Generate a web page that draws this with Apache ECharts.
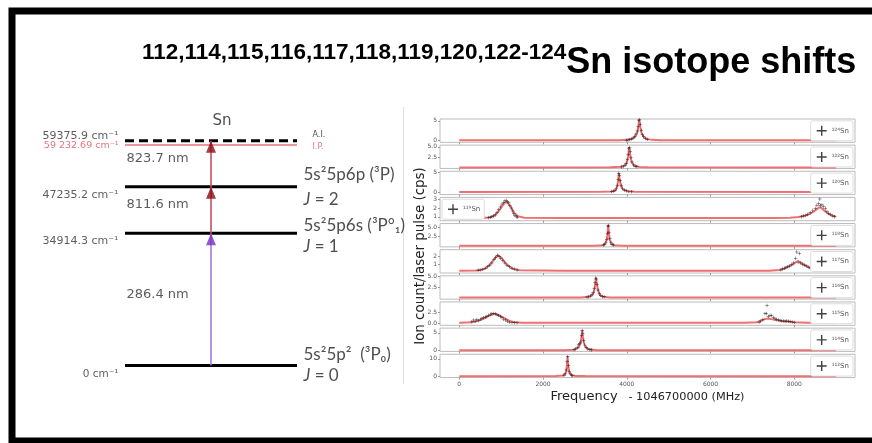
<!DOCTYPE html>
<html>
<head>
<meta charset="utf-8">
<script src="https://cdn.jsdelivr.net/npm/echarts@6/dist/echarts.min.js"></script>
<style>
  html, body { margin: 0; padding: 0; background: #fff; }
  #chart { width: 872px; height: 443px; }
</style>
</head>
<body>
<div id="chart"></div>
<script>
// ---- Sn excitation scheme (energies in cm^-1) ----
const levelValues = [0, 34914.3, 47235.2, 59375.9];        // ground, 6s, 6p, auto-ionizing
const ipValue = 59232.69;                                    // ionization potential
const stateTerms = ['5s²5p²  (³P₀)', '5s²5p6s (³P°₁)', '5s²5p6p (³P)'];
const stateJ = [0, 1, 2];
const transitionNm = [286.4, 811.6, 823.7];

// ---- Resonance spectra, one panel per isotope ----
const isotopeNames = ['¹²⁴Sn', '¹²²Sn', '¹²⁰Sn', '¹¹⁹Sn', '¹¹⁸Sn', '¹¹⁷Sn', '¹¹⁶Sn', '¹¹⁵Sn', '¹¹⁴Sn', '¹¹²Sn'];
const freqTicks = [0, 2000, 4000, 6000, 8000];
const yRangeMin = [-0.5, -0.25, -0.65, 0.56, -0.28, -0.1, 0, -0.4, -0.3, -0.8];
const yRangeMax = [5.45, 5.4, 5.17, 3.19, 6.03, 2.9, 5.1, 4.9, 6.36, 12.6];
const yTickValues = [[0, 5], [2.5, 5], [0, 5], [1, 2, 3], [2.5, 5], [1, 2], [2.5, 5], [0, 2.5], [0, 5], [0, 10]];
const yTickDecimals = [0, 1, 0, 0, 1, 0, 1, 1, 0, 0];

const fit124 = [[0,0],[3800,0.03],[4000,0.12],[4120,0.35],[4200,0.9],[4250,2.0],[4280,3.8],[4296,5.3],[4315,4.0],[4350,1.9],[4400,0.9],[4480,0.35],[4600,0.12],[4800,0.04],[9000,0]];
const pts124 = [[3990,0.05],[4030,0.1],[4070,0.2],[4110,0.35],[4150,0.6],[4190,1.0],[4220,1.6],[4250,2.4],[4270,3.5],[4290,5.0],[4302,5.3],[4320,4.1],[4345,2.6],[4370,1.5],[4400,0.9],[4440,0.5],[4490,0.3]];

const fit122 = [[0,0],[3600,0.03],[3850,0.15],[3950,0.5],[4000,1.2],[4030,2.6],[4057,4.9],[4085,2.8],[4120,1.2],[4180,0.45],[4300,0.12],[4500,0.04],[9000,0]];
const pts122 = [[3880,0.1],[3920,0.25],[3960,0.5],[3990,1.0],[4015,1.9],[4035,3.2],[4050,4.5],[4065,4.8],[4080,3.9],[4100,2.4],[4125,1.3],[4160,0.6],[4200,0.3],[4240,0.15]];

const fit120 = [[0,0],[3400,0.03],[3650,0.15],[3730,0.5],[3770,1.3],[3795,3.0],[3812,4.8],[3830,3.2],[3860,1.5],[3910,0.6],[4000,0.2],[4200,0.05],[9000,0]];
const pts120 = [[3640,0.1],[3680,0.2],[3720,0.45],[3750,0.9],[3775,1.7],[3795,3.2],[3810,4.6],[3825,4.2],[3845,2.8],[3870,1.6],[3900,0.9],[3940,0.5],[3990,0.3],[4050,0.15],[4110,0.08]];

const fit119 = [[0,0.85],[550,0.86],[700,0.92],[800,1.05],[900,1.4],[980,1.9],[1050,2.4],[1115,2.7],[1180,2.45],[1250,1.95],[1320,1.4],[1400,1.08],[1550,0.9],[2500,0.86],[7500,0.86],[7900,0.9],[8100,0.98],[8250,1.12],[8380,1.35],[8480,1.65],[8560,1.95],[8609,2.1],[8660,1.95],[8740,1.6],[8820,1.32],[8900,1.15],[9000,1.02]];
const pts119 = [[700,0.9],[740,0.95],[780,1.0],[820,1.1],[860,1.2],[900,1.45],[940,1.8],[980,2.1],[1020,2.45],[1060,2.65],[1090,2.8],[1120,2.85],[1150,2.7],[1180,2.6],[1210,2.3],[1240,2.0],[1270,1.65],[1300,1.35],[1330,1.15],[1360,1.0],[1390,0.95],
  [8170,1.0],[8220,1.08],[8270,1.15],[8320,1.25],[8380,1.45],[8440,1.7],[8500,1.95],[8540,2.3],[8580,2.5],[8610,3.0],[8630,2.25],[8660,2.35],[8700,2.15],[8740,1.9],[8780,1.6],[8820,1.4],[8870,1.25],[8920,1.1],[8960,1.0]];

const fit118 = [[0,0],[3200,0.03],[3420,0.15],[3490,0.6],[3525,1.8],[3545,4.0],[3556,5.7],[3568,4.2],[3590,1.9],[3630,0.6],[3700,0.15],[3900,0.04],[9000,0]];
const pts118 = [[3440,0.2],[3470,0.35],[3500,0.8],[3525,1.7],[3540,3.4],[3552,5.3],[3562,5.5],[3575,3.7],[3595,1.9],[3620,0.8],[3650,0.4],[3680,0.2]];

const fit117 = [[0,0.2],[400,0.22],[550,0.35],[650,0.6],[750,1.1],[850,1.8],[920,2.2],[1000,1.9],[1100,1.2],[1200,0.7],[1300,0.4],[1450,0.25],[2500,0.2],[7400,0.2],[7650,0.3],[7800,0.55],[7950,0.95],[8050,1.35],[8100,1.4],[8200,1.1],[8320,0.7],[8450,0.4],[8700,0.25],[9000,0.2]];
const pts117 = [[450,0.25],[500,0.3],[560,0.35],[620,0.5],[680,0.7],[730,0.9],[780,1.2],[830,1.6],[870,1.9],[910,2.2],[950,2.0],[990,1.8],[1040,1.5],[1090,1.2],[1140,0.9],[1200,0.7],[1260,0.5],[1320,0.4],[1380,0.3],
  [7680,0.3],[7720,0.4],[7760,0.5],[7800,0.6],[7840,0.7],[7880,0.8],[7930,1.0],[7980,1.2],[8030,1.8],[8060,2.6],[8090,1.3],[8120,2.4],[8150,1.2],[8200,1.0],[8250,0.9],[8300,0.8],[8350,0.6],[8400,0.5],[8460,0.4]];

const fit116 = [[0,0.35],[2900,0.37],[3100,0.5],[3180,0.9],[3220,1.8],[3245,3.3],[3263,4.7],[3282,3.6],[3310,2.0],[3360,0.9],[3430,0.5],[3600,0.38],[9000,0.35]];
const pts116 = [[3050,0.45],[3090,0.55],[3130,0.7],[3170,1.0],[3200,1.5],[3225,2.4],[3245,3.6],[3258,4.6],[3272,4.4],[3290,3.2],[3315,2.0],[3345,1.2],[3380,0.8],[3420,0.6],[3460,0.5]];

const fit115 = [[0,0.15],[300,0.3],[450,0.6],[600,1.2],[720,1.8],[830,2.2],[950,1.9],[1080,1.2],[1200,0.6],[1320,0.3],[1500,0.18],[2500,0.15],[6800,0.15],[7100,0.3],[7200,0.6],[7300,1.0],[7370,1.15],[7450,1.0],[7550,0.8],[7700,0.6],[7850,0.45],[8000,0.3],[8300,0.2],[9000,0.15]];
const pts115 = [[300,0.4],[340,0.8],[380,0.5],[420,0.9],[460,0.7],[500,1.0],[540,1.1],[580,1.3],[620,1.5],[660,1.6],[700,1.9],[740,2.1],[780,2.2],[820,2.3],[860,2.2],[900,2.0],[940,1.9],[980,1.6],[1020,1.3],[1060,1.0],[1100,0.8],[1150,0.5],[1200,0.3],[1260,0.2],[1320,0.2],[1380,0.15],
  [7160,0.3],[7200,0.6],[7250,0.9],[7300,2.2],[7330,2.3],[7350,4.1],[7380,1.6],[7420,1.9],[7450,1.8],[7500,1.4],[7540,1.1],[7580,0.9],[7620,0.8],[7660,0.7],[7700,0.6],[7740,0.6],[7780,0.5],[7820,0.6],[7860,0.5],[7900,0.4],[7950,0.35],[8000,0.3]];

const fit114 = [[0,0],[2500,0.03],[2750,0.2],[2850,0.8],[2895,2.0],[2920,3.9],[2936,5.8],[2952,4.0],[2980,2.0],[3030,0.8],[3100,0.3],[3300,0.06],[9000,0]];
const pts114 = [[2740,0.2],[2780,0.4],[2820,0.9],[2850,1.6],[2875,1.9],[2900,2.4],[2920,4.2],[2935,5.7],[2950,4.8],[2970,2.8],[2995,1.5],[3030,0.8],[3070,0.4],[3120,0.2],[3160,0.1]];

const fit112 = [[0,0],[2300,0.05],[2480,0.4],[2540,1.8],[2565,5.0],[2587,11.6],[2605,5.5],[2630,2.0],[2680,0.6],[2780,0.15],[3000,0.05],[9000,0]];
const pts112 = [[2500,0.5],[2530,1.2],[2555,3.5],[2575,8.5],[2590,11.2],[2605,6.0],[2625,2.5],[2650,1.2],[2680,0.6],[2710,0.3]];

const fits = [fit124, fit122, fit120, fit119, fit118, fit117, fit116, fit115, fit114, fit112];
const points = [pts124, pts122, pts120, pts119, pts118, pts117, pts116, pts115, pts114, pts112];

// ---- chart assembly ----
const plusPath = 'path://M4.3,0H5.7V10H4.3ZM0,4.3H10V5.7H0Z';
const numFont = 'DejaVu Sans';
const termFont = 'Lato';

const grids = [], xAxes = [], yAxes = [], series = [], legends = [];

// Level diagram: grid 0, and grid 1 (the I.P. line, drawn just under the A.I. line)
const diagram = { left: 125, right: 575, top: 138.3, bottom: 77.5 };
grids.push({ ...diagram });
grids.push({ left: diagram.left, right: diagram.right, top: diagram.top + 3.8, bottom: diagram.bottom - 3.8 });
for (let g = 0; g < 2; g++) {
  xAxes.push({ gridIndex: g, type: 'value', min: 0, max: 1, show: false });
  yAxes.push({ gridIndex: g, type: 'value', min: 0, max: 60000, show: false });
}

levelValues.forEach((E, i) => {
  series.push({
    type: 'line', xAxisIndex: 0, yAxisIndex: 0, silent: true, symbol: 'none', z: 3,
    data: [[0, E], [1, E]],
    lineStyle: { color: '#000', width: 3, type: i === 3 ? [9, 5] : 'solid' }
  });
});
series.push({
  type: 'line', xAxisIndex: 1, yAxisIndex: 1, silent: true, symbol: 'none', z: 2,
  data: [[0, ipValue], [1, ipValue]],
  lineStyle: { color: '#e8737c', width: 1.6 }
});

// excitation steps
series.push({
  type: 'line', xAxisIndex: 0, yAxisIndex: 0, silent: true, symbol: 'none', z: 4,
  data: [[0.5, levelValues[0]], [0.5, levelValues[1]]],
  lineStyle: { color: '#a57ad8', width: 1.6 }
});
series.push({
  type: 'line', xAxisIndex: 0, yAxisIndex: 0, silent: true, symbol: 'none', z: 4,
  data: [[0.5, levelValues[1]], [0.5, levelValues[3]]],
  lineStyle: { color: '#c4525c', width: 1.6 }
});
series.push({
  type: 'scatter', xAxisIndex: 0, yAxisIndex: 0, silent: true, z: 5,
  symbol: 'triangle', symbolSize: [10, 12], symbolOffset: [0, '50%'],
  data: [
    { value: [0.5, levelValues[1]], itemStyle: { color: '#7430c4' } },
    { value: [0.5, levelValues[2]], itemStyle: { color: '#8c0a16' } },
    { value: [0.5, levelValues[3]], itemStyle: { color: '#8c0a16' } }
  ]
});

// energy labels on the left
const energyOffsets = [8.5, 7.4, 8.3, -4.7];
const levelLabelData = levelValues.map((E, i) => ({
  value: [0, E],
  label: { formatter: E + ' cm⁻¹', offset: [0, energyOffsets[i]], fontSize: i === 0 ? 10.5 : 11 }
}));
series.push({
  type: 'scatter', xAxisIndex: 0, yAxisIndex: 0, silent: true, symbolSize: 1,
  itemStyle: { color: 'transparent' },
  label: { show: true, position: 'left', distance: 6, fontFamily: numFont, color: '#333' },
  data: levelLabelData
});
const ipText = Math.floor(ipValue / 1000) + ' ' + (ipValue % 1000).toFixed(2) + ' cm⁻¹';
series.push({
  type: 'scatter', xAxisIndex: 1, yAxisIndex: 1, silent: true, symbolSize: 1,
  itemStyle: { color: 'transparent' },
  label: { show: true, position: 'left', distance: 6, fontFamily: numFont, color: '#e0505c', fontSize: 9.5, offset: [0, 1] },
  data: [{ value: [0, ipValue], label: { formatter: ipText } }]
});

// wavelength labels, between the two levels of each step
series.push({
  type: 'scatter', xAxisIndex: 0, yAxisIndex: 0, silent: true, symbolSize: 1,
  itemStyle: { color: 'transparent' },
  label: { show: true, position: 'right', distance: 1, offset: [0, -5], fontFamily: numFont, fontSize: 13, color: '#333' },
  data: transitionNm.map((nm, i) => ({
    value: [0, (levelValues[i] + levelValues[i + 1]) / 2],
    label: { formatter: nm.toFixed(1) + ' nm' }
  }))
});

// element symbol above the scheme
series.push({
  type: 'scatter', xAxisIndex: 0, yAxisIndex: 0, silent: true, symbolSize: 1,
  itemStyle: { color: 'transparent' },
  label: { show: true, position: 'top', distance: 12, offset: [11, 0], fontFamily: numFont, fontSize: 15, color: '#222', formatter: 'Sn' },
  data: [[0.5, levelValues[3]]]
});

// A.I. / I.P. tags
series.push({
  type: 'scatter', xAxisIndex: 0, yAxisIndex: 0, silent: true, symbolSize: 1,
  itemStyle: { color: 'transparent' },
  label: { show: true, position: 'right', distance: 15, offset: [0, -5.5], fontFamily: numFont, fontSize: 8, color: '#222', formatter: 'A.I.' },
  data: [[1, levelValues[3]]]
});
series.push({
  type: 'scatter', xAxisIndex: 1, yAxisIndex: 1, silent: true, symbolSize: 1,
  itemStyle: { color: 'transparent' },
  label: { show: true, position: 'right', distance: 15, offset: [0, 2], fontFamily: numFont, fontSize: 8, color: '#e0505c', formatter: 'I.P.' },
  data: [[1, ipValue]]
});

// state designations on the right
const termLineHeights = [21, 21, 25];
const termOffsets = [0, 3, 0];
series.push({
  type: 'scatter', xAxisIndex: 0, yAxisIndex: 0, silent: true, symbolSize: 1,
  itemStyle: { color: 'transparent' },
  label: { show: true, position: 'right', distance: 6 },
  data: stateTerms.map((t, i) => ({
    value: [1, levelValues[i]],
    label: {
      offset: [0, termOffsets[i]],
      formatter: '{t|' + t + '}\n{j|J}{t| = ' + stateJ[i] + '}',
      rich: {
        t: { fontFamily: termFont, fontSize: 17, color: '#222', lineHeight: termLineHeights[i] },
        j: { fontFamily: termFont, fontSize: 17, color: '#222', fontStyle: 'italic', lineHeight: termLineHeights[i] }
      }
    }
  }))
});

// Spectra panels
const panelTop0 = 119, panelStep = 26.14, panelHeight = 23.3;
isotopeNames.forEach((name, i) => {
  const gi = i + 2;
  const top = panelTop0 + i * panelStep;
  const last = i === isotopeNames.length - 1;
  grids.push({ left: 440, right: 17, top, height: panelHeight, show: true, borderColor: '#bcbcbc', borderWidth: 1, backgroundColor: '#fff' });
  xAxes.push({
    gridIndex: gi, type: 'value', min: -460, max: 9450,
    axisLine: { show: false, onZero: false }, splitLine: { show: false },
    axisTick: { show: true, customValues: freqTicks, length: 2, lineStyle: { color: '#999' } },
    axisLabel: { show: last, customValues: freqTicks, fontSize: 6, color: '#555', margin: 4, fontFamily: numFont, formatter: v => String(v) },
    name: last ? '{a|Frequency}{b|   - 1046700000 (MHz)}' : '',
    nameLocation: 'middle', nameGap: 13,
    nameTextStyle: {
      rich: {
        a: { fontSize: 13, color: '#222', fontFamily: numFont },
        b: { fontSize: 11.3, color: '#222', fontFamily: numFont }
      }
    }
  });
  yAxes.push({
    gridIndex: gi, type: 'value', min: yRangeMin[i], max: yRangeMax[i],
    axisLine: { show: false, onZero: false }, splitLine: { show: false },
    axisTick: { show: true, customValues: yTickValues[i], length: 2, lineStyle: { color: '#999' } },
    axisLabel: {
      customValues: yTickValues[i], fontSize: 6, color: '#555', margin: 3, fontFamily: numFont,
      formatter: v => v.toFixed(yTickDecimals[i])
    }
  });
  series.push({
    type: 'line', name: name + ' fit', xAxisIndex: gi, yAxisIndex: gi, silent: true,
    symbol: 'none', z: 2, data: fits[i],
    lineStyle: { color: '#ef6f72', width: 2 }
  });
  series.push({
    type: 'scatter', name, xAxisIndex: gi, yAxisIndex: gi, z: 3,
    symbol: plusPath, symbolSize: 3.5, data: points[i],
    itemStyle: { color: '#111' }
  });
  const onLeft = name === '¹¹⁹Sn';
  legends.push({
    data: [{ name, icon: plusPath }],
    ...(onLeft ? { left: 442 } : { right: 19 }),
    top: top + 1.8,
    selectedMode: false,
    backgroundColor: '#fff', borderColor: '#dddddd', borderWidth: 1, borderRadius: 2,
    padding: [5, 4, 5, 6], itemWidth: 10, itemHeight: 10, itemGap: 0,
    textStyle: { fontSize: 7, color: '#555', fontFamily: numFont }
  });
});

const chart = echarts.init(document.getElementById('chart'), null, { renderer: 'canvas' });
chart.setOption({
  animation: false,
  backgroundColor: '#fff',
  title: {
    text: '{a|112,114,115,116,117,118,119,120,122-124}{b|Sn isotope shifts}',
    left: 137, top: 36,
    textStyle: {
      rich: {
        a: { fontFamily: 'Liberation Sans', fontWeight: 'bold', fontSize: 22.5, color: '#000', verticalAlign: 'top', lineHeight: 24 },
        b: { fontFamily: 'Liberation Sans', fontWeight: 'bold', fontSize: 36, color: '#000', verticalAlign: 'bottom', lineHeight: 40 }
      }
    }
  },
  grid: grids,
  xAxis: xAxes,
  yAxis: yAxes,
  legend: legends,
  series,
  graphic: [
    { type: 'line', silent: true, shape: { x1: 403.5, y1: 107, x2: 403.5, y2: 384 }, style: { stroke: '#e2e2e2', lineWidth: 1 } },
    {
      type: 'text', silent: true, x: 421, y: 256, rotation: Math.PI / 2,
      style: { text: 'Ion count/laser pulse (cps)', fontSize: 13.4, fontFamily: numFont, fill: '#222', align: 'center', verticalAlign: 'middle' }
    },
    { type: 'rect', silent: true, z: 100, shape: { x: 12, y: 11, width: 900, height: 430 }, style: { fill: 'none', stroke: '#000', lineWidth: 7 } }
  ]
});
</script>
</body>
</html>
